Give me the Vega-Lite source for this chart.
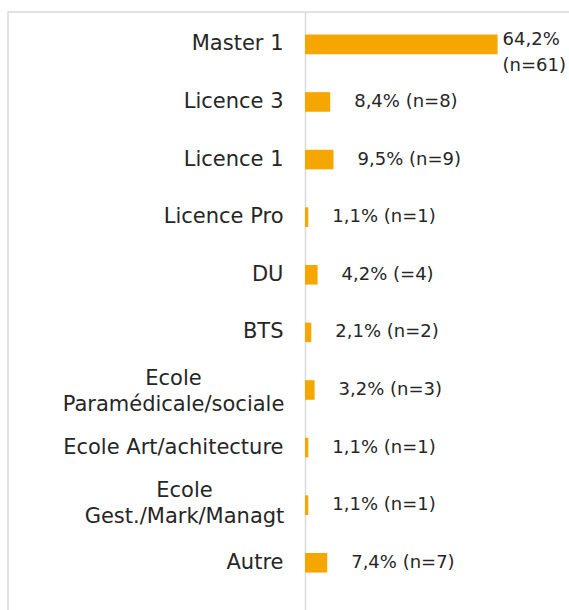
{
  "$schema": "https://vega.github.io/schema/vega-lite/v6.json",
  "autosize": "none",
  "padding": {"left": 8, "top": 12, "right": 0, "bottom": 0},
  "width": 567,
  "height": 603,
  "background": "white",
  "config": {"view": {"stroke": "#d9d9d9", "strokeWidth": 1.5}, "font": "DejaVu Sans"},
  "data": {"values": [
    {"cat": "Master 1", "value": 64.2, "label": "64,2%|(n=61)"},
    {"cat": "Licence 3", "value": 8.4, "label": "8,4% (n=8)"},
    {"cat": "Licence 1", "value": 9.5, "label": "9,5% (n=9)"},
    {"cat": "Licence Pro", "value": 1.1, "label": "1,1% (n=1)"},
    {"cat": "DU", "value": 4.2, "label": "4,2% (=4)"},
    {"cat": "BTS", "value": 2.1, "label": "2,1% (n=2)"},
    {"cat": "Ecole|Paramédicale/sociale", "value": 3.2, "label": "3,2% (n=3)"},
    {"cat": "Ecole Art/achitecture", "value": 1.1, "label": "1,1% (n=1)"},
    {"cat": "Ecole|Gest./Mark/Managt", "value": 1.1, "label": "1,1% (n=1)"},
    {"cat": "Autre", "value": 7.4, "label": "7,4% (n=7)"}
  ]},
  "encoding": {
    "y": {
      "field": "cat", "type": "nominal", "sort": null,
      "scale": {"paddingInner": 0.66, "paddingOuter": 0.564, "align": 0.347},
      "axis": {
        "title": null, "offset": -297, "ticks": false, "grid": false,
        "labelFontSize": 21, "labelColor": "#262626",
        "labelLimit": 0, "labelLineHeight": 26,
        "domainColor": "#d9d9d9", "domainWidth": 1.5,
        "labelAlign": {"condition": {"test": "indexof(datum.value, '|') >= 0", "value": "center"}, "value": "right"},
        "labelPadding": {"condition": [
          {"test": "datum.value == 'Ecole|Paramédicale/sociale'", "value": 132},
          {"test": "datum.value == 'Ecole|Gest./Mark/Managt'", "value": 121}
        ], "value": 22},
        "labelOffset": {"condition": [
          {"test": "datum.value == 'Ecole|Paramédicale/sociale'", "value": -11},
          {"test": "datum.value == 'Ecole|Gest./Mark/Managt'", "value": -14}
        ], "value": 0},
        "labelExpr": "indexof(datum.label, '|') >= 0 ? split(datum.label, '|') : datum.label"
      }
    }
  },
  "layer": [
    {
      "mark": {"type": "bar", "color": "#F5A700"},
      "encoding": {
        "x": {"field": "value", "type": "quantitative", "scale": {"domain": [-99, 90], "nice": false, "zero": false}, "axis": null},
        "x2": {"datum": 0}
      }
    },
    {
      "transform": [{"filter": "datum.cat != 'Master 1'"}],
      "mark": {"type": "text", "align": "left", "baseline": "middle", "dx": 24, "fontSize": 18, "color": "#262626"},
      "encoding": {
        "x": {"field": "value", "type": "quantitative"},
        "text": {"field": "label"}
      }
    },
    {
      "transform": [{"filter": "datum.cat == 'Master 1'"}],
      "mark": {"type": "text", "align": "left", "baseline": "middle", "dx": 5, "dy": -4.5, "fontSize": 18, "color": "#262626", "lineBreak": "|", "lineHeight": 26},
      "encoding": {
        "x": {"field": "value", "type": "quantitative"},
        "text": {"field": "label"}
      }
    }
  ]
}
